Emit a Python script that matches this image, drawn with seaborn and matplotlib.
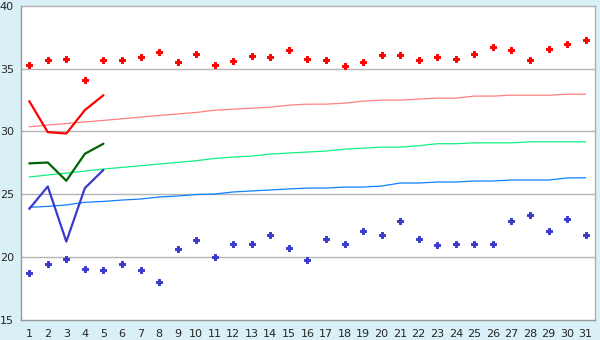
import matplotlib
matplotlib.use("Agg")
import matplotlib.pyplot as plt
import seaborn as sns
import pandas as pd

days = list(range(1, 32))

# daily scatter points
red_points = [35.26, 35.66, 35.74, 34.07, 35.66, 35.66, 35.9, 36.29, 35.5, 36.16,
              35.26, 35.58, 35.97, 35.9, 36.45, 35.74, 35.66, 35.18, 35.5, 36.05,
              36.05, 35.66, 35.9, 35.74, 36.13, 36.69, 36.45, 35.66, 36.53, 36.93, 37.24]
blue_points = [18.78, 19.49, 19.89, 19.1, 19.02, 19.49, 19.02, 18.07, 20.68, 21.39,
               20.05, 21.08, 21.08, 21.79, 20.76, 19.81, 21.47, 21.08, 22.1, 21.79,
               22.9, 21.47, 21.0, 21.08, 21.08, 21.08, 22.9, 23.37, 22.1, 23.06, 21.79]

# trend lines
pink_trend = [30.37, 30.51, 30.63, 30.76, 30.88, 31.01, 31.14, 31.27, 31.39, 31.51,
              31.69, 31.77, 31.85, 31.93, 32.09, 32.17, 32.17, 32.25, 32.41, 32.49,
              32.49, 32.57, 32.65, 32.65, 32.81, 32.81, 32.88, 32.88, 32.88, 32.96, 32.96]
green_trend = [26.39, 26.55, 26.7, 26.86, 27.02, 27.15, 27.28, 27.42, 27.55, 27.68,
               27.86, 27.97, 28.05, 28.21, 28.29, 28.37, 28.45, 28.6, 28.68, 28.76,
               28.76, 28.87, 29.03, 29.03, 29.1, 29.1, 29.1, 29.18, 29.18, 29.18, 29.18]
blue_trend = [23.98, 24.06, 24.17, 24.38, 24.45, 24.56, 24.64, 24.8, 24.88, 25.0,
              25.04, 25.2, 25.28, 25.36, 25.44, 25.51, 25.51, 25.59, 25.59, 25.67,
              25.91, 25.91, 25.99, 25.99, 26.07, 26.07, 26.15, 26.15, 26.15, 26.31, 26.33]

# current month, first days only
cur_days = [1, 2, 3, 4, 5]
red_line = [32.41, 29.95, 29.84, 31.7, 32.88]
green_line = [27.47, 27.54, 26.09, 28.23, 29.03]
blue_line = [23.85, 25.64, 21.26, 25.51, 26.95]

bg = "#d9f0f6"
sns.set_style("white")
plt.rcParams["font.family"] = ["DejaVu Sans"]

fig = plt.figure(figsize=(6, 3.4), dpi=100, facecolor=bg)
ax = fig.add_axes([0.0345, 0.0574, 0.957, 0.9264])
ax.set_facecolor("white")

for y in [20, 25, 30, 35]:
    ax.axhline(y, color="#b4b4b4", lw=1.0, zorder=0)

sns.lineplot(x=days, y=pink_trend, ax=ax, color="#ff8080", lw=0.9)
sns.lineplot(x=days, y=green_trend, ax=ax, color="#10f080", lw=0.9)
sns.lineplot(x=days, y=blue_trend, ax=ax, color="#1080ff", lw=0.9)

sns.lineplot(x=cur_days, y=red_line, ax=ax, color="#ff0000", lw=1.6)
sns.lineplot(x=cur_days, y=green_line, ax=ax, color="#006400", lw=1.6)
sns.lineplot(x=cur_days, y=blue_line, ax=ax, color="#3a3acc", lw=1.6)

sns.scatterplot(x=days, y=red_points, ax=ax, color="#ff0000", marker="P",
                s=16, linewidth=0.7, edgecolor="#ff0000")
sns.scatterplot(x=days, y=blue_points, ax=ax, color="#3a3acc", marker="P",
                s=16, linewidth=0.7, edgecolor="#3a3acc")

ax.set_xlim(0.54, 31.5)
ax.set_ylim(15, 40)
ax.set_xticks(days)
ax.set_yticks([15, 20, 25, 30, 35, 40])
ax.tick_params(axis="both", labelsize=8, length=4, width=1, color="#888888",
               pad=2, direction="out")
ax.tick_params(axis="y", pad=1)
for s in ax.spines.values():
    s.set_color("#b0b0b0")
    s.set_linewidth(1)
ax.spines["left"].set_color("#999999")
ax.spines["bottom"].set_color("#999999")

fig.savefig("out.png", dpi=100, facecolor=bg)
